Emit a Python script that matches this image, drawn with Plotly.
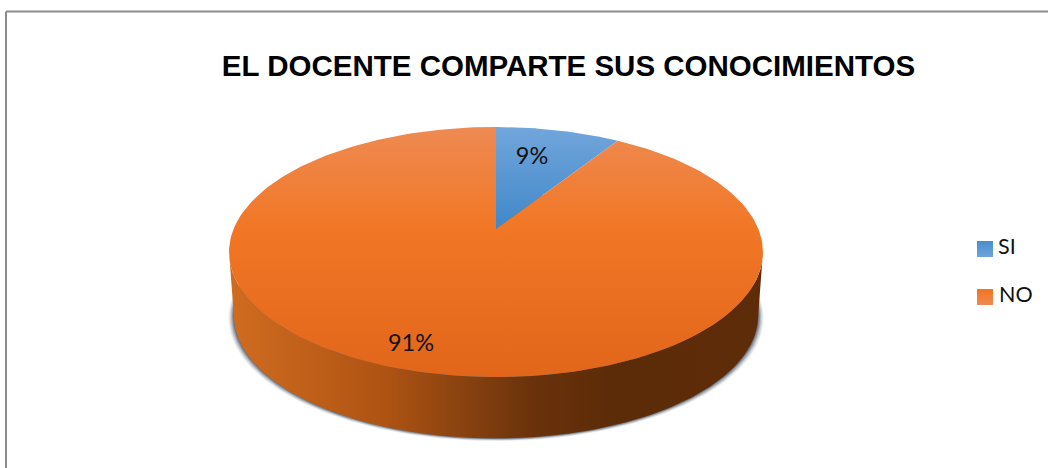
import numpy as np
import plotly.graph_objects as go

# ----------------- DATA ----------------- #
labels = ['SI', 'NO']
shares = [9, 91]
title_text = 'EL DOCENTE COMPARTE SUS CONOCIMIENTOS'

# ----------------- LOOK ----------------- #
W, H = 1048, 468
APEX_X, APEX_Y = 496, 229
RX, RY, PERSP = 262.4, 120.8, 0.184
DEPTH, BASE_SCALE = 64, 0.982

# y axis runs downwards, so position 1 of these scales is the top of the shape
top_scales = {
    'SI': [[0, '#3F87C8'], [1, '#72A6DC']],
    'NO': [[0, '#E2661A'], [0.6, '#F17726'], [1, '#EE8A52']],
}
swatch_colors = {'SI': ('#6DA5DC', '#4A8DCB'), 'NO': ('#EE8A52', '#F27420')}
side_scale = [[0, '#D06C20'], [0.29, '#AF5313'], [0.43, '#8B4310'],
              [0.57, '#6A320B'], [0.72, '#5C2B08'], [1, '#5E2C09']]
label_pos = {'SI': (532, 158), 'NO': (411, 345)}
swatch_pos = {'SI': (985, 249), 'NO': (985, 297)}
legend_text_pos = {'SI': (998, 249), 'NO': (999, 297)}


# tilted disc with a bit of perspective, so the centre sits above the middle
def project(t, scale=1.0, dy=0.0):
    d = 1 + PERSP * np.sin(t)
    x = APEX_X + scale * RX * np.cos(t) / d
    y = APEX_Y + dy - scale * RY * np.sin(t) / d
    return x, y


def wedge(start, stop):
    t = np.linspace(start, stop, 240)
    x, y = project(t)
    return np.r_[APEX_X, x, APEX_X], np.r_[APEX_Y, y, APEX_Y]


fig = go.Figure()

# ----------------- SHADOW ----------------- #
t_all = np.linspace(0, 2 * np.pi, 361)
for grow, alpha in zip([5.5, 4.6, 3.7, 2.8, 2.0, 1.2, 0.5], [0.06, 0.09, 0.12, 0.16, 0.2, 0.25, 0.3]):
    sx, sy = project(t_all, BASE_SCALE, DEPTH)
    sx = APEX_X + (sx - APEX_X) * (1 + grow / 262)
    sy = sy + grow * 0.5
    fig.add_trace(go.Scatter(x=sx, y=sy, mode='lines', line=dict(width=0), fill='toself',
                             fillcolor=f'rgba(50,60,75,{alpha})', hoverinfo='skip', showlegend=False))

# ----------------- SIDE WALL ----------------- #
edge = np.arcsin(-PERSP)
t_front = np.linspace(np.pi - edge, 2 * np.pi + edge, 300)
tx, ty = project(t_front)
bx, by = project(t_front[::-1], BASE_SCALE, DEPTH)
fig.add_trace(go.Scatter(x=np.r_[tx, bx], y=np.r_[ty, by], mode='lines', line=dict(width=0),
                         fill='toself', fillgradient=dict(type='horizontal', colorscale=side_scale),
                         hoverinfo='skip', showlegend=False))

# ----------------- TOP FACE ----------------- #
angle = np.pi / 2
for name, share in zip(labels, shares):
    sweep = 2 * np.pi * share / sum(shares)
    x, y = wedge(angle, angle - sweep)
    fig.add_trace(go.Scatter(x=x, y=y, mode='lines', line=dict(width=0), fill='toself',
                             fillgradient=dict(type='vertical', colorscale=top_scales[name]),
                             name=name, showlegend=False, hoverinfo='skip'))
    angle -= sweep

# ----------------- SLICE LABELS ----------------- #
for name, share in zip(labels, shares):
    lx, ly = label_pos[name]
    fig.add_trace(go.Scatter(x=[lx], y=[ly], mode='text', text=[f'{share}%'],
                             textfont=dict(family='Lato', size=23.5, color='#111111'),
                             hoverinfo='skip', showlegend=False))

# ----------------- LEGEND, placed by hand: the built-in one keeps too wide a gap ----------------- #
for name in labels:
    lx, ly = swatch_pos[name]
    top, bottom = swatch_colors[name]
    fig.add_trace(go.Scatter(x=[lx], y=[ly], mode='markers',
                             marker=dict(symbol='square', size=16, color=bottom, line=dict(width=0),
                                         gradient=dict(type='vertical', color=top)),
                             hoverinfo='skip', showlegend=False))
    tx_, ty_ = legend_text_pos[name]
    fig.add_trace(go.Scatter(x=[tx_], y=[ty_], mode='text', text=[name], textposition='middle right',
                             textfont=dict(family='Lato', size=21.5, color='#111111'),
                             hoverinfo='skip', showlegend=False))

fig.update_layout(
    width=W, height=H, autosize=False,
    margin=dict(l=0, r=0, t=0, b=0),
    paper_bgcolor='white', plot_bgcolor='white',
    showlegend=False,
    xaxis=dict(range=[0, W], visible=False, fixedrange=True),
    yaxis=dict(range=[H, 0], visible=False, fixedrange=True),
    title=dict(text=f'<b>{title_text}</b>', x=568.5 / W, xanchor='center', y=1 - 65.5 / H, yanchor='middle',
               font=dict(family='Liberation Sans', size=29.5, color='#000000')),
    shapes=[dict(type='line', xref='x', yref='y', x0=6, y0=H, x1=6, y1=11.5, line=dict(color='#8C8C8C', width=2)),
            dict(type='line', xref='x', yref='y', x0=6, y0=11.5, x1=W, y1=11.5, line=dict(color='#8C8C8C', width=2))],
)

fig.write_html('out.html', config=dict(displayModeBar=False),
               post_script="document.body.style.margin='0';")
